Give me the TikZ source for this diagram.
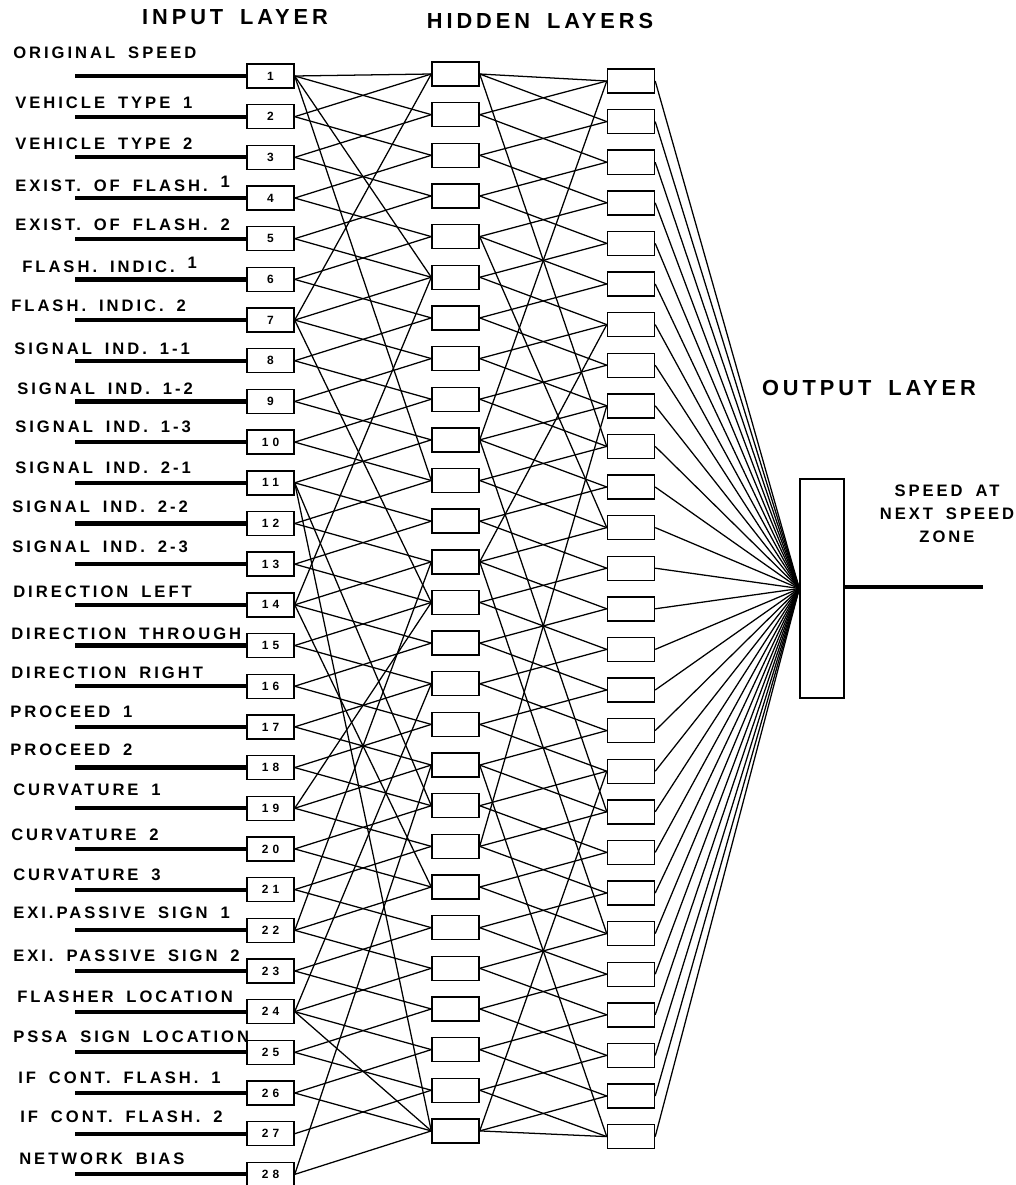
\documentclass[tikz,border=0pt]{standalone}
\usepackage{fontspec}
\setmainfont{Liberation Sans}
\newfontfamily\lblfont[LetterSpace=18, WordSpace=1.7]{Liberation Sans}
\newfontfamily\numfont[LetterSpace=35]{Liberation Sans}
\newcommand{\raisedone}[1]{\raisebox{0.45ex}{#1}}

\tikzset{
  unit/.style={draw, line width=1pt, minimum width=1.175cm, minimum height=0.6cm, inner sep=0pt},
  inbox/.style={unit, font=\numfont\bfseries\fontsize{8.5}{8.5}\selectfont},
  lbl/.style={anchor=west, inner sep=0pt, font=\lblfont\bfseries\fontsize{11.8}{12}\selectfont},
  head/.style={inner sep=0pt, font=\lblfont\bfseries\fontsize{15.5}{16}\selectfont},
  feed/.style={line width=3pt},
  wire/.style={line width=0.9pt}
}

\begin{document}
\begin{tikzpicture}[x=0.025cm, y=-0.025cm]
  \useasboundingbox (0,0) rectangle (1016,1185);

  % titles
  \node[head] (tin) at (235,17) {INPUT LAYER};
  \node[head] (thid) at (540,21) {HIDDEN LAYERS};
  \node[head] (tout) at (869,388) {OUTPUT LAYER};

  % input layer
  \foreach \k/\x/\y/\t in {1/13/53/ORIGINAL SPEED, 2/15/103/VEHICLE TYPE 1,
      3/15/144/VEHICLE TYPE 2, 4/15/184/EXIST. OF FLASH. \raisedone{1},
      5/15/225/EXIST. OF FLASH. 2, 6/22/265/FLASH. INDIC. \raisedone{1},
      7/11/306/FLASH. INDIC. 2, 8/14/349/SIGNAL IND. 1-1,
      9/17/389/SIGNAL IND. 1-2, 10/15/427/SIGNAL IND. 1-3,
      11/15/468/SIGNAL IND. 2-1, 12/12/507/SIGNAL IND. 2-2,
      13/12/547/SIGNAL IND. 2-3, 14/13/592/DIRECTION LEFT,
      15/11/634/DIRECTION THROUGH, 16/11/673/DIRECTION RIGHT,
      17/10/712/PROCEED 1, 18/10/750/PROCEED 2,
      19/13/790/CURVATURE 1, 20/11/835/CURVATURE 2,
      21/13/875/CURVATURE 3, 22/13/913/EXI.PASSIVE SIGN 1,
      23/13/956/EXI. PASSIVE SIGN 2, 24/17/997/FLASHER LOCATION,
      25/13/1037/PSSA SIGN LOCATION, 26/18/1078/IF CONT. FLASH. 1,
      27/20/1117/IF CONT. FLASH. 2, 28/19/1159/NETWORK BIAS}
  {
    \node[inbox] (in\k) at (270.5,{76+40.68*(\k-1)}) {\k};
    \node[lbl] (lab\k) at (\x,\y) {\t};
    \coordinate (src\k) at (75,{76+40.68*(\k-1)});
    \draw[feed] (src\k) -- (in\k.west);
  }

  % hidden layers
  \foreach \k in {1,...,27} {
    \node[unit] (ha\k) at (455.5,{74+40.65*(\k-1)}) {};
    \node[unit] (hb\k) at (631,{81+40.6*(\k-1)}) {};
  }

  % output layer
  \node[draw, line width=1pt, minimum width=1.1cm, minimum height=5.475cm, inner sep=0pt] (out) at (822,588.5) {};
  \coordinate (res) at (983,587);
  \draw[feed] (out.east |- res) -- (res);
  \node[inner sep=0pt, align=center, font=\lblfont\bfseries\fontsize{11.8}{16.3}\selectfont] (tres) at (947,514) {SPEED AT\\NEXT SPEED\\ZONE};

  % input -> first hidden layer
  \foreach \k in {2,...,28} {
    \pgfmathtruncatemacro\j{\k-1}
    \draw[wire] (in\k.east) -- (ha\j.west);
  }
  \foreach \k in {1,...,26} {
    \pgfmathtruncatemacro\j{\k+1}
    \draw[wire] (in\k.east) -- (ha\j.west);
  }
  \foreach \a/\b in {1/1, 1/6, 1/11, 7/1, 7/14, 14/6, 11/19, 11/27, 14/21,
      19/14, 22/13, 24/16, 28/18, 24/27}
    \draw[wire] (in\a.east) -- (ha\b.west);

  % first -> second hidden layer
  \foreach \k in {2,...,27} {
    \pgfmathtruncatemacro\j{\k-1}
    \draw[wire] (ha\k.east) -- (hb\j.west);
  }
  \foreach \k in {1,...,26} {
    \pgfmathtruncatemacro\j{\k+1}
    \draw[wire] (ha\k.east) -- (hb\j.west);
  }
  \foreach \a/\b in {1/1, 27/27, 1/10, 10/1, 5/12, 13/7, 10/19, 20/9,
      13/22, 18/27, 27/18}
    \draw[wire] (ha\a.east) -- (hb\b.west);

  % second hidden layer -> output
  \foreach \k in {1,...,27}
    \draw[wire] (hb\k.east) -- (out.west);
\end{tikzpicture}
\end{document}
